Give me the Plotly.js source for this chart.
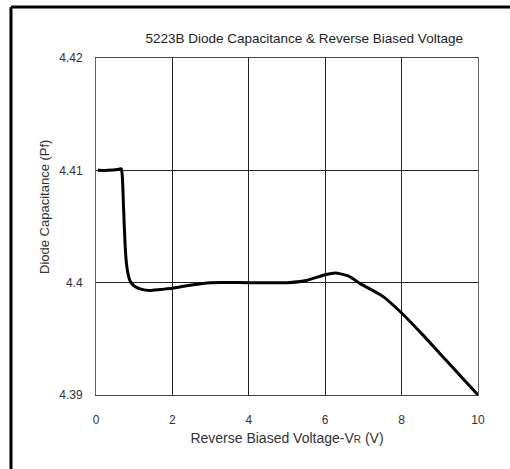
<!DOCTYPE html>
<html>
<head>
<meta charset="utf-8">
<script src="https://cdn.plot.ly/plotly-3.0.1.min.js"></script>
<style>html,body{margin:0;padding:0;background:#fff;}#chart{width:510px;height:469px;}</style>
</head>
<body>
<div id="chart"></div>
<script>
const voltage = [0.05, 0.3, 0.6, 0.66, 0.69, 0.72, 0.76, 0.8, 0.85, 0.9, 1.0, 1.2, 1.4, 1.7, 2.0, 2.5, 3.0, 4.0, 5.0, 5.5, 6.0, 6.26, 6.6, 6.95, 7.5, 8.0, 8.5, 9.0, 9.5, 10];
const capacitance = [4.41, 4.41, 4.4101, 4.41015, 4.4094, 4.4068, 4.4035, 4.4016, 4.4006, 4.4001, 4.3997, 4.3994, 4.3993, 4.3994, 4.3995, 4.3998, 4.4, 4.4, 4.4, 4.4002, 4.4007, 4.40086, 4.4006, 4.39985, 4.3988, 4.3973, 4.39555, 4.3937, 4.39185, 4.39];
const xTicks = [0, 2, 4, 6, 8, 10];
const yTickVals = [4.39, 4.40, 4.41, 4.42];
const yTickText = ["4.39", "4.4", "4.41", "4.42"];

const font = "Liberation Sans, Arial, sans-serif";
const trace = {
  x: voltage, y: capacitance, type: "scatter", mode: "lines",
  line: {color: "#000", width: 3, shape: "spline", smoothing: 0.6},
  hoverinfo: "skip", showlegend: false
};
function frameLine(x0, y0, x1, y1) {
  return {type: "line", xref: "paper", yref: "paper", x0: x0, y0: y0, x1: x1, y1: y1,
          line: {color: "#000", width: 3}, layer: "above"};
}
const layout = {
  width: 510, height: 469,
  margin: {l: 96, r: 32, t: 58, b: 74},
  paper_bgcolor: "#fff", plot_bgcolor: "#fff",
  font: {family: font, color: "#333", size: 12},
  title: {text: "5223B Diode Capacitance &amp; Reverse Biased Voltage", font: {family: font, size: 13.5, color: "#222"},
          xref: "paper", x: 0.545, xanchor: "center", yref: "container", y: 0.919, yanchor: "middle"},
  xaxis: {range: [0, 10], tickvals: xTicks, ticks: "", showgrid: true, gridcolor: "#222", gridwidth: 1,
          zeroline: false, showline: true, linecolor: "#444", linewidth: 1, mirror: true,
          ticklabelstandoff: 14, tickfont: {size: 12, color: "#333"},
          title: {text: "Reverse Biased Voltage-V<span style=\"font-size:10px\">R</span> (V)", font: {size: 14, color: "#333"}, standoff: 6}},
  yaxis: {range: [4.39, 4.42], tickvals: yTickVals, ticktext: yTickText, ticks: "", showgrid: true, gridcolor: "#222", gridwidth: 1,
          zeroline: false, showline: true, linecolor: "#666", linewidth: 1, mirror: true,
          ticklabelstandoff: 10, tickfont: {size: 12, color: "#333"}},
  annotations: [{
    text: "Diode Capacitance (Pf)", textangle: -90, showarrow: false,
    xref: "paper", yref: "paper", x: -0.1335, y: 0.558, xanchor: "center", yanchor: "middle",
    font: {family: font, size: 13, color: "#333"}
  }],
  shapes: [
    frameLine(-0.2225, 1.1513, 1.09, 1.1513),
    frameLine(-0.2225, 1.1513, -0.2225, -0.23)
  ]
};
Plotly.newPlot("chart", [trace], layout, {displayModeBar: false, staticPlot: true});
</script>
</body>
</html>
